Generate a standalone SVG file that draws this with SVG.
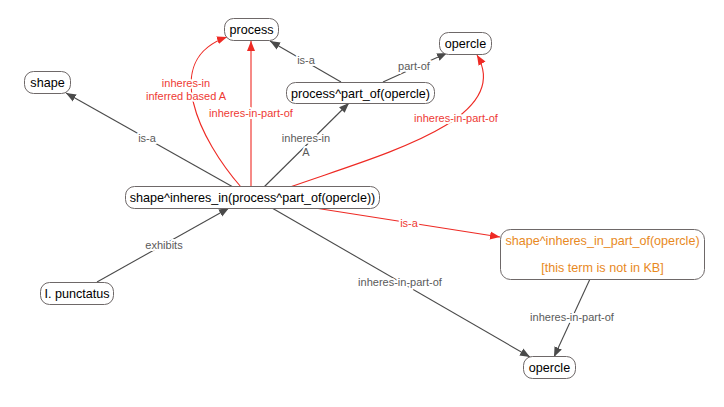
<svg xmlns="http://www.w3.org/2000/svg" width="724" height="407" viewBox="0 0 724 407">
<style>
.node rect{fill:#fff;stroke:#6e6868;stroke-width:1}
.node text{font-family:"Liberation Sans",Arial,sans-serif;font-size:12.6px;fill:#000;text-anchor:middle}
.node text.o{fill:#e8891e}
.e{fill:none;stroke:#4a4a4a;stroke-width:1.1}
.r{fill:none;stroke:#ee2a24;stroke-width:1.1}
.lbl{font-family:"Liberation Sans",Arial,sans-serif;font-size:11px;text-anchor:middle;fill:#5a5a5a;stroke:#fff;stroke-width:4;paint-order:stroke;stroke-linejoin:round}
.lbl.rl{fill:#ee3a34}
</style>
<defs>
<marker id="ab" viewBox="0 0 10 10" refX="10" refY="5" markerWidth="10" markerHeight="10" markerUnits="userSpaceOnUse" orient="auto"><path d="M0,1 L10,5 L0,9 z" fill="#4a4a4a"/></marker>
<marker id="ar" viewBox="0 0 10 10" refX="10" refY="5" markerWidth="10" markerHeight="10" markerUnits="userSpaceOnUse" orient="auto"><path d="M0,1 L10,5 L0,9 z" fill="#ee2a24"/></marker>
</defs>
<rect width="724" height="407" fill="#fff"/>
<g id="connectors">
<path class="e" d="M233,187 L66,93" marker-end="url(#ab)"/>
<path class="e" d="M97,282 L229,208" marker-end="url(#ab)"/>
<path class="e" d="M341,82 L270,41" marker-end="url(#ab)"/>
<path class="e" d="M383,82 L447,53" marker-end="url(#ab)"/>
<path class="e" d="M264,187 L349,103" marker-end="url(#ab)"/>
<path class="r" d="M251,187 L251,41" marker-end="url(#ar)"/>
<path class="r" d="M241,187 C200,140 160,60 227,37" marker-end="url(#ar)"/>
<path class="r" d="M290,187 C380,155 515,120 477,55" marker-end="url(#ar)"/>
<path class="r" d="M315,208 L500,237" marker-end="url(#ar)"/>
<path class="e" d="M272,208 L530,357" marker-end="url(#ab)"/>
<path class="e" d="M590,279 L554,357" marker-end="url(#ab)"/>
<text class="lbl" x="147" y="142">is-a</text>
<text class="lbl" x="164" y="249">exhibits</text>
<text class="lbl" x="306" y="64">is-a</text>
<text class="lbl" x="414" y="70">part-of</text>
<text class="lbl" x="306" y="142">inheres-in</text>
<text class="lbl" x="306" y="156">A</text>
<text class="lbl rl" x="251" y="117">inheres-in-part-of</text>
<text class="lbl rl" x="186" y="87">inheres-in</text>
<text class="lbl rl" x="186" y="100">inferred based A</text>
<text class="lbl rl" x="456" y="122">inheres-in-part-of</text>
<text class="lbl rl" x="409" y="227">is-a</text>
<text class="lbl" x="400" y="286">inheres-in-part-of</text>
<text class="lbl" x="572" y="321">inheres-in-part-of</text>
</g>
<g id="n-process" class="node"><rect x="224.5" y="18.5" width="54" height="22" rx="9"/><text x="251.5" y="34">process</text></g>
<g id="n-shape" class="node"><rect x="24.5" y="71.5" width="46" height="22" rx="9"/><text x="47.5" y="87">shape</text></g>
<g id="n-process-part-of" class="node"><rect x="286.5" y="82.5" width="148" height="21" rx="9"/><text x="360.5" y="97.5">process^part_of(opercle)</text></g>
<g id="n-opercle-top" class="node"><rect x="439.5" y="32.5" width="52" height="22" rx="9"/><text x="465.5" y="48">opercle</text></g>
<g id="n-shape-inheres" class="node"><rect x="125.5" y="186.5" width="254" height="22" rx="9"/><text x="252.5" y="202">shape^inheres_in(process^part_of(opercle))</text></g>
<g id="n-punctatus" class="node"><rect x="40.5" y="282.5" width="73" height="22" rx="9"/><text x="77" y="298">I. punctatus</text></g>
<g id="n-not-in-kb" class="node"><rect x="500.5" y="229.5" width="204" height="50" rx="10"/><text class="o" x="602.5" y="245">shape^inheres_in_part_of(opercle)</text><text class="o" x="602.5" y="272">[this term is not in KB]</text></g>
<g id="n-opercle-bottom" class="node"><rect x="523.5" y="356.5" width="52" height="22" rx="9"/><text x="549.5" y="372">opercle</text></g>
</svg>
